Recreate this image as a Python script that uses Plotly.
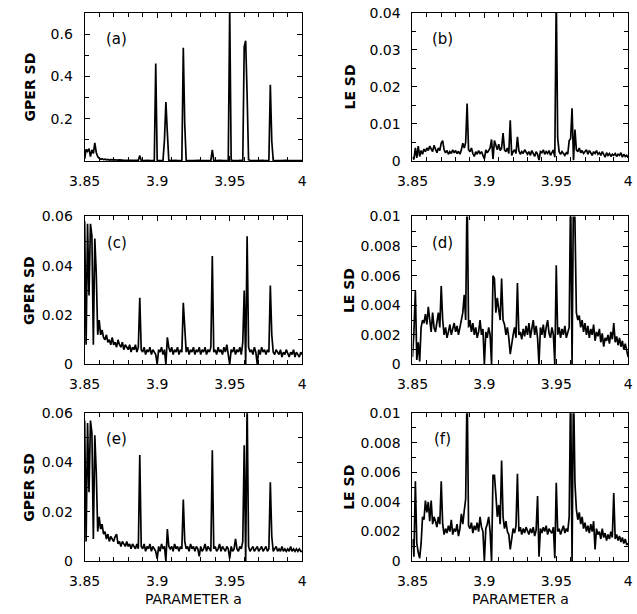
import numpy as np
import plotly.graph_objects as go

# parameter grid (a = 3.850 ... 4.000, step 0.001)
a_start, a_stop, a_step = 3.85, 4.0, 0.001
param_a = np.round(np.arange(a_start, a_stop + a_step / 2, a_step), 3)

gper_a = [
    0.010, 0.055, 0.045, 0.058, 0.020, 0.052, 0.035, 0.085, 0.040, 0.020,
    0.012, 0.008, 0.010, 0.006, 0.008, 0.005, 0.007, 0.004, 0.006, 0.005,
    0.006, 0.004, 0.005, 0.004, 0.005, 0.003, 0.004, 0.003, 0.003, 0.002,
    0.003, 0.002, 0.003, 0.002, 0.002, 0.003, 0.002, 0.003, 0.025, 0.002,
    0.002, 0.003, 0.002, 0.002, 0.003, 0.002, 0.002, 0.003, 0.002, 0.460,
    0.004, 0.002, 0.003, 0.002, 0.003, 0.097, 0.278, 0.135, 0.004, 0.002,
    0.003, 0.002, 0.002, 0.003, 0.002, 0.002, 0.003, 0.002, 0.535, 0.172,
    0.003, 0.002, 0.002, 0.003, 0.002, 0.002, 0.003, 0.002, 0.002, 0.003,
    0.002, 0.002, 0.003, 0.002, 0.002, 0.003, 0.002, 0.002, 0.052, 0.003,
    0.002, 0.003, 0.002, 0.002, 0.003, 0.002, 0.002, 0.003, 0.002, 0.002,
    0.720, 0.004, 0.003, 0.002, 0.003, 0.002, 0.002, 0.003, 0.002, 0.002,
    0.540, 0.568, 0.312, 0.006, 0.003, 0.002, 0.002, 0.003, 0.002, 0.002,
    0.003, 0.002, 0.002, 0.003, 0.002, 0.002, 0.003, 0.002, 0.360, 0.093,
    0.003, 0.002, 0.002, 0.003, 0.002, 0.002, 0.003, 0.002, 0.002, 0.003,
    0.002, 0.002, 0.003, 0.002, 0.002, 0.003, 0.002, 0.002, 0.003, 0.002, 0.002,
]

le_b = [
    0.0010, 0.0004, 0.0035, 0.0008, 0.0040, 0.0012, 0.0028, 0.0018, 0.0032, 0.0025,
    0.0035, 0.0028, 0.0040, 0.0030, 0.0025, 0.0042, 0.0030, 0.0022, 0.0035, 0.0028,
    0.0048, 0.0055, 0.0030, 0.0022, 0.0028, 0.0018, 0.0025, 0.0020, 0.0030, 0.0022,
    0.0028, 0.0020, 0.0026, 0.0018, 0.0030, 0.0048, 0.0035, 0.0050, 0.0155, 0.0030,
    0.0025, 0.0035, 0.0020, 0.0012, 0.0025, 0.0018, 0.0028, 0.0020, 0.0025, 0.0015,
    0.0005, 0.0030, 0.0022, 0.0028, 0.0035, 0.0058, 0.0005, 0.0055, 0.0040, 0.0030,
    0.0045, 0.0028, 0.0035, 0.0075, 0.0030, 0.0025, 0.0035, 0.0020, 0.0110, 0.0015,
    0.0025, 0.0030, 0.0020, 0.0065, 0.0028, 0.0018, 0.0025, 0.0020, 0.0030, 0.0022,
    0.0018, 0.0025, 0.0015, 0.0028, 0.0020, 0.0012, 0.0025, 0.0018, 0.0002, 0.0025,
    0.0022, 0.0030, 0.0018, 0.0025, 0.0020, 0.0028, 0.0015, 0.0025, 0.0030, 0.0010,
    0.0450, 0.0062, 0.0025, 0.0018, 0.0025, 0.0020, 0.0015, 0.0022, 0.0018, 0.0055,
    0.0060, 0.0142, 0.0002, 0.0085, 0.0030, 0.0025, 0.0035, 0.0022, 0.0028, 0.0020,
    0.0025, 0.0030, 0.0018, 0.0028, 0.0022, 0.0015, 0.0025, 0.0020, 0.0028, 0.0018,
    0.0022, 0.0015, 0.0025, 0.0018, 0.0010, 0.0022, 0.0015, 0.0020, 0.0012, 0.0018,
    0.0015, 0.0020, 0.0012, 0.0018, 0.0015, 0.0022, 0.0010, 0.0018, 0.0012, 0.0015, 0.0008,
]

gper_c = [
    0.058, 0.008, 0.057, 0.028, 0.057, 0.052, 0.008, 0.051, 0.037, 0.012,
    0.018, 0.012, 0.014, 0.011, 0.010, 0.012, 0.009, 0.010, 0.008, 0.011,
    0.008, 0.009, 0.007, 0.010, 0.008, 0.007, 0.009, 0.006, 0.008, 0.007,
    0.006, 0.008, 0.005, 0.007, 0.006, 0.008, 0.005, 0.007, 0.027, 0.006,
    0.005, 0.007, 0.004, 0.006, 0.005, 0.007, 0.004, 0.006, 0.005, 0.004,
    0.000, 0.006, 0.005, 0.007, 0.004, 0.006, 0.000, 0.011, 0.007, 0.005,
    0.007, 0.004, 0.006, 0.005, 0.007, 0.004, 0.006, 0.005, 0.025, 0.012,
    0.005, 0.007, 0.004, 0.006, 0.005, 0.007, 0.004, 0.006, 0.005, 0.007,
    0.004, 0.006, 0.005, 0.007, 0.004, 0.006, 0.005, 0.007, 0.044, 0.005,
    0.006, 0.004, 0.007, 0.005, 0.006, 0.004, 0.007, 0.005, 0.008, 0.004,
    0.000, 0.006, 0.005, 0.007, 0.004, 0.006, 0.005, 0.007, 0.004, 0.009,
    0.030, 0.000, 0.052, 0.007, 0.005, 0.006, 0.004, 0.007, 0.005, 0.000,
    0.006, 0.004, 0.007, 0.005, 0.006, 0.004, 0.006, 0.005, 0.032, 0.012,
    0.005, 0.004, 0.006, 0.005, 0.004, 0.006, 0.003, 0.005, 0.004, 0.006,
    0.004, 0.003, 0.005, 0.004, 0.006, 0.003, 0.005, 0.004, 0.003, 0.005, 0.004,
]

le_d = [
    0.0005, 0.0022, 0.0050, 0.0003, 0.0015, 0.0002, 0.0025, 0.0030, 0.0028, 0.0034,
    0.0027, 0.0039, 0.0030, 0.0022, 0.0035, 0.0025, 0.0022, 0.0028, 0.0035, 0.0025,
    0.0053, 0.0030, 0.0020, 0.0025, 0.0018, 0.0022, 0.0027, 0.0020, 0.0024, 0.0028,
    0.0022, 0.0026, 0.0020, 0.0025, 0.0028, 0.0035, 0.0047, 0.0030, 0.0120, 0.0025,
    0.0030, 0.0022, 0.0028, 0.0020, 0.0025, 0.0018, 0.0022, 0.0030, 0.0020, 0.0024,
    0.0000, 0.0022, 0.0018, 0.0025, 0.0020, 0.0000, 0.0060, 0.0058, 0.0035, 0.0045,
    0.0037, 0.0030, 0.0058, 0.0030, 0.0027, 0.0020, 0.0025, 0.0018, 0.0007, 0.0015,
    0.0020, 0.0025, 0.0018, 0.0055, 0.0020, 0.0022, 0.0017, 0.0024, 0.0019, 0.0026,
    0.0020, 0.0028, 0.0018, 0.0024, 0.0030, 0.0020, 0.0026, 0.0018, 0.0000, 0.0025,
    0.0020, 0.0027, 0.0018, 0.0025, 0.0030, 0.0021, 0.0018, 0.0025, 0.0020, 0.0000,
    0.0067, 0.0020, 0.0025, 0.0018, 0.0024, 0.0020, 0.0026, 0.0018, 0.0022, 0.0025,
    0.0120, 0.0000, 0.0120, 0.0097, 0.0035, 0.0030, 0.0033, 0.0025, 0.0030, 0.0022,
    0.0028, 0.0020, 0.0026, 0.0018, 0.0024, 0.0020, 0.0027, 0.0016, 0.0022, 0.0019,
    0.0024, 0.0015, 0.0021, 0.0012, 0.0018, 0.0016, 0.0020, 0.0014, 0.0022, 0.0017,
    0.0028, 0.0015, 0.0019, 0.0013, 0.0018, 0.0012, 0.0016, 0.0010, 0.0014, 0.0008, 0.0005,
]

gper_e = [
    0.057, 0.008, 0.056, 0.028, 0.057, 0.052, 0.009, 0.051, 0.036, 0.012,
    0.018, 0.013, 0.015, 0.011, 0.012, 0.009, 0.011, 0.008, 0.010, 0.009,
    0.008, 0.010, 0.011, 0.007, 0.008, 0.006, 0.008, 0.007, 0.006, 0.008,
    0.006, 0.007, 0.005, 0.007, 0.006, 0.005, 0.007, 0.005, 0.043, 0.006,
    0.005, 0.007, 0.004, 0.006, 0.005, 0.007, 0.004, 0.006, 0.005, 0.004,
    0.001, 0.006, 0.004, 0.007, 0.005, 0.006, 0.000, 0.013, 0.006, 0.005,
    0.006, 0.004, 0.007, 0.005, 0.006, 0.004, 0.006, 0.005, 0.025, 0.008,
    0.005, 0.006, 0.004, 0.007, 0.005, 0.006, 0.004, 0.006, 0.005, 0.002,
    0.006, 0.004, 0.005, 0.007, 0.004, 0.006, 0.005, 0.004, 0.045, 0.005,
    0.006, 0.004, 0.005, 0.007, 0.004, 0.006, 0.005, 0.004, 0.006, 0.005,
    0.001, 0.006, 0.004, 0.005, 0.009, 0.005, 0.004, 0.006, 0.005, 0.008,
    0.047, 0.000, 0.065, 0.006, 0.004, 0.005, 0.006, 0.004, 0.005, 0.006,
    0.004, 0.005, 0.006, 0.004, 0.005, 0.006, 0.004, 0.005, 0.032, 0.010,
    0.004, 0.005, 0.006, 0.004, 0.005, 0.004, 0.006, 0.004, 0.005, 0.004,
    0.005, 0.004, 0.006, 0.004, 0.005, 0.004, 0.005, 0.004, 0.005, 0.004, 0.004,
]

le_f = [
    0.0015, 0.0003, 0.0054, 0.0012, 0.0006, 0.0002, 0.0012, 0.0030, 0.0028, 0.0041,
    0.0033, 0.0040, 0.0027, 0.0041, 0.0025, 0.0030, 0.0027, 0.0023, 0.0030, 0.0025,
    0.0054, 0.0025, 0.0018, 0.0022, 0.0019, 0.0024, 0.0020, 0.0028, 0.0018, 0.0022,
    0.0020, 0.0025, 0.0017, 0.0022, 0.0032, 0.0025, 0.0034, 0.0042, 0.0120, 0.0024,
    0.0022, 0.0026, 0.0019, 0.0024, 0.0021, 0.0026, 0.0020, 0.0030, 0.0023, 0.0020,
    0.0000, 0.0022, 0.0025, 0.0030, 0.0020, 0.0000, 0.0058, 0.0058, 0.0045, 0.0030,
    0.0038, 0.0025, 0.0068, 0.0030, 0.0022, 0.0027, 0.0020, 0.0018, 0.0008, 0.0016,
    0.0022, 0.0019, 0.0024, 0.0059, 0.0020, 0.0023, 0.0018, 0.0022, 0.0019, 0.0023,
    0.0020, 0.0018, 0.0022, 0.0019, 0.0023, 0.0017, 0.0021, 0.0044, 0.0003, 0.0022,
    0.0019, 0.0023, 0.0020, 0.0024, 0.0018, 0.0022, 0.0020, 0.0019, 0.0023, 0.0002,
    0.0053, 0.0020, 0.0022, 0.0018, 0.0021, 0.0024, 0.0019, 0.0022, 0.0020, 0.0030,
    0.0120, 0.0000, 0.0120, 0.0053, 0.0035, 0.0028, 0.0033, 0.0025, 0.0030, 0.0022,
    0.0026, 0.0020, 0.0024, 0.0019, 0.0025, 0.0020, 0.0027, 0.0008, 0.0022, 0.0018,
    0.0020, 0.0015, 0.0022, 0.0016, 0.0019, 0.0014, 0.0018, 0.0015, 0.0020, 0.0016,
    0.0046, 0.0015, 0.0018, 0.0014, 0.0017, 0.0013, 0.0016, 0.0012, 0.0015, 0.0011, 0.0012,
]

# tick labels
x_tick_vals = [3.85, 3.9, 3.95, 4.0]
x_tick_text = ["3.85", "3.9", "3.95", "4"]
y_ticks_a = ([0.2, 0.4, 0.6], ["0.2", "0.4", "0.6"])
y_ticks_b = ([0, 0.01, 0.02, 0.03, 0.04], ["0", "0.01", "0.02", "0.03", "0.04"])
y_ticks_ce = ([0, 0.02, 0.04, 0.06], ["0", "0.02", "0.04", "0.06"])
y_ticks_df = ([0, 0.002, 0.004, 0.006, 0.008, 0.01],
              ["0", "0.002", "0.004", "0.006", "0.008", "0.01"])

panel_labels = ["(a)", "(b)", "(c)", "(d)", "(e)", "(f)"]
y_titles = ["GPER SD", "LE SD", "GPER SD", "LE SD", "GPER SD", "LE SD"]
x_title = "PARAMETER a"

series = [gper_a, le_b, gper_c, le_d, gper_e, le_f]
y_ranges = [[0, 0.7], [0, 0.04], [0, 0.06], [0, 0.01], [0, 0.06], [0, 0.01]]
y_minor = [0.1, 0.005, 0.01, 0.001, 0.01, 0.001]
y_ticks = [y_ticks_a, y_ticks_b, y_ticks_ce, y_ticks_df, y_ticks_ce, y_ticks_df]

W, H = 637, 614
col_px = [(71, 296), (410, 633)]
row_px = [(5, 157), (214, 366), (416, 568)]

FONT = "DejaVu Sans"
fig = go.Figure()
layout = dict(
    width=W, height=H, margin=dict(l=0, r=0, t=0, b=0),
    paper_bgcolor="white", plot_bgcolor="white", showlegend=False,
    annotations=[],
)

for i in range(6):
    r, c = divmod(i, 2)
    n = "" if i == 0 else str(i + 1)
    fig.add_trace(go.Scatter(
        x=param_a, y=series[i], mode="lines",
        line=dict(color="black", width=1.7),
        xaxis="x" + n, yaxis="y" + n, hoverinfo="skip",
    ))
    x0, x1 = col_px[c]
    y0, y1 = row_px[r]
    common = dict(
        showline=True, linecolor="black", linewidth=1, mirror="ticks",
        ticks="inside", ticklen=5, tickwidth=1, tickcolor="black",
        showgrid=False, zeroline=False,
        tickfont=dict(family=FONT, size=14, color="black"),
    )
    layout["xaxis" + n] = dict(
        common, domain=[x0 / W, x1 / W], anchor="y" + n,
        range=[a_start, a_stop], tickmode="array",
        tickvals=x_tick_vals, ticktext=x_tick_text, ticklabelstandoff=7,
        minor=dict(ticks="inside", ticklen=4, tickcolor="black",
                   tick0=a_start, dtick=0.01, showgrid=False),
    )
    layout["yaxis" + n] = dict(
        common, domain=[1 - y1 / H, 1 - y0 / H], anchor="x" + n,
        range=y_ranges[i], tickmode="array",
        tickvals=y_ticks[i][0], ticktext=y_ticks[i][1], ticklabelstandoff=8,
        minor=dict(ticks="inside", ticklen=4, tickcolor="black",
                   tick0=0, dtick=y_minor[i], showgrid=False),
    )
    # panel label
    layout["annotations"].append(dict(
        text=panel_labels[i], xref="paper", yref="paper",
        x=(x0 + (33 if c == 0 else 31)) / W, y=1 - (y0 + 27) / H,
        xanchor="center", yanchor="middle", showarrow=False,
        font=dict(family=FONT, size=15, color="black"),
    ))
    # y title
    layout["annotations"].append(dict(
        text="<b>" + y_titles[i] + "</b>", xref="paper", yref="paper",
        x=(14 if c == 0 else 345) / W, y=1 - (y0 + y1) / 2 / H,
        xanchor="center", yanchor="middle", textangle=-90, showarrow=False,
        font=dict(family=FONT, size=14, color="black"),
    ))

for c in range(2):
    x0, x1 = col_px[c]
    layout["annotations"].append(dict(
        text=x_title, xref="paper", yref="paper",
        x=(x0 + x1) / 2 / W, y=1 - 607 / H,
        xanchor="center", yanchor="middle", showarrow=False,
        font=dict(family=FONT, size=14, color="black"),
    ))

fig.update_layout(**layout)
fig.write_html("out.html",
               config={"displayModeBar": False},
               post_script="document.body.style.margin='0';"
                           "document.body.style.overflow='hidden';")
